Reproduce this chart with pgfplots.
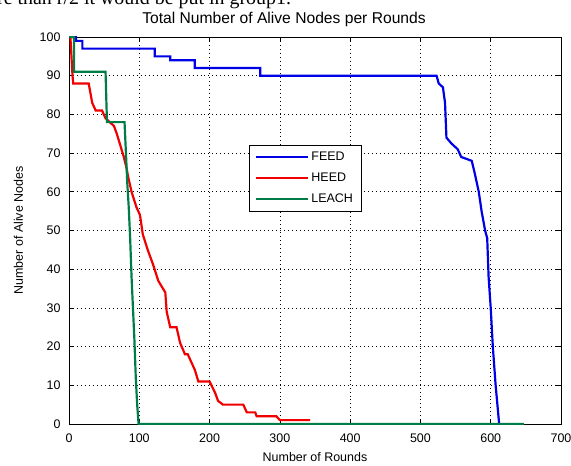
\documentclass[border=0pt]{standalone}
\usepackage{fontspec}
\setmainfont{Liberation Sans}
\newfontfamily\docserif{Liberation Serif}
\usepackage{pgfplots}
\pgfplotsset{compat=1.18}

\definecolor{feedblue}{RGB}{0,0,230}
\definecolor{heedred}{RGB}{240,0,0}
\definecolor{leachgreen}{RGB}{0,125,70}

\begin{document}
\begin{tikzpicture}
\begin{axis}[
    at={(0,0)}, anchor=south west,
    width=492bp, height=387bp, scale only axis,
    xmin=0, xmax=700, ymin=0, ymax=100,
    xtick={0,100,...,700}, ytick={0,10,...,100},
    tick align=inside, tick pos=both,
    major tick length=5bp,
    tick style={black, line width=0.6pt},
    axis line style={black, line width=0.7pt},
    grid=major,
    major grid style={black, line width=0.6pt, dash pattern=on 0.6pt off 3.4pt},
    /pgf/number format/assume math mode=true,
    tick label style={font=\fontsize{12.5}{15}\selectfont},
    xticklabel style={yshift=-6bp},
    yticklabel style={xshift=-5bp},
    title={Total Number of Alive Nodes per Rounds},
    title style={at={(axis description cs:0.437,1.02)}, anchor=base, font=\fontsize{15.7}{19}\selectfont, inner sep=0},
    xlabel={Number of Rounds},
    xlabel style={at={(axis description cs:0.5,-0.098)}, anchor=base, font=\fontsize{12.5}{15}\selectfont, inner sep=0},
    ylabel={Number of Alive Nodes},
    ylabel style={at={(axis description cs:-0.094,0.5)}, anchor=base, font=\fontsize{12.5}{15}\selectfont, inner sep=0},
    legend style={at={(0.366,0.721)}, anchor=north west, draw=black,
        font=\fontsize{12.5}{15}\selectfont, inner xsep=6bp, inner ysep=5bp, row sep=7bp,
        nodes={inner sep=2bp}},
    legend cell align=left,
    legend image code/.code={\draw[#1, line width=2.2pt] (0bp,0bp) -- (52bp,0bp);},
]
\addplot[feedblue, line width=2.2pt] coordinates {
  (0,100) (10,100) (10,99) (19,99) (19,97) (122,97) (122,95) (144,95) (144,94)
  (179,94) (179,92) (272,92) (272,90) (523,90) (526,88) (532,87) (535,83)
  (537,74) (544,72.5) (553,71) (558,69) (573,68) (577,65) (583,60) (587,55)
  (592,50) (595,48) (597,38) (600,30) (603,20) (607,10) (612,0)
};
\addlegendentry{FEED}
\addplot[heedred, line width=2.2pt] coordinates {
  (0,100) (2,100) (5,90) (6,88) (28,88) (31,85) (33,83) (38,81) (47,81) (52,79)
  (64,77) (68,75) (73,72) (78,69) (82,66) (84,64) (89,60) (96,56) (101,54)
  (105,49) (112,45) (120,41) (127,37) (137,34) (139,29) (144,25) (153,25)
  (158,21) (165,18) (169,18) (179,14) (184,11) (200,11) (208,8) (212,6)
  (219,5) (248,5) (253,3) (265,3) (267,2) (295,2) (300,1) (343,1)
};
\addlegendentry{HEED}
\addplot[leachgreen, line width=2.2pt] coordinates {
  (0,100) (7,100) (7,91) (52,91) (54,78) (79,78) (81,70) (83,62) (85,56)
  (87,48) (89,38) (91,30) (93,22) (95,12) (97,5) (99,0) (647,0)
};
\addlegendentry{LEACH}
\end{axis}
\pgfresetboundingbox
\path[use as bounding box] (current axis.south west) ++(-69bp,-42bp) rectangle ++(571bp,466bp);
% clipped line of body text above the figure
\path (current axis.south west) ++(-72bp,419bp)
  node[anchor=base west, inner sep=0, font=\docserif\fontsize{20}{24}\selectfont] {re than r/2 it would be put in group1.};
\end{tikzpicture}
\end{document}
